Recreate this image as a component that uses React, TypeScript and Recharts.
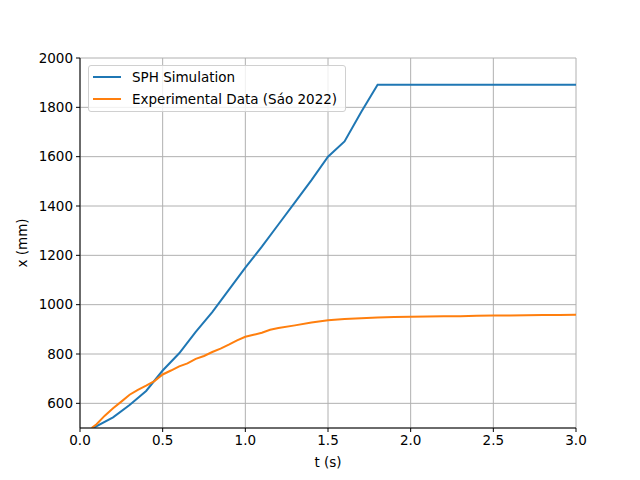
import {
  CartesianGrid,
  Legend,
  Line,
  LineChart,
  XAxis,
  YAxis,
} from "recharts";

const simTime = [0.08, 0.2, 0.3, 0.4, 0.5, 0.6, 0.7, 0.8, 0.9, 1.0, 1.1, 1.2, 1.3, 1.4, 1.5, 1.6, 1.7, 1.8, 2.0, 2.5, 3.0];
const simX = [500, 543, 593, 650, 733, 803, 890, 970, 1060, 1150, 1235, 1325, 1415, 1505, 1600, 1662, 1780, 1892, 1892, 1892, 1892];

const expTime = [
  0.07, 0.1, 0.15, 0.2, 0.25, 0.3, 0.35, 0.4, 0.45, 0.5, 0.55, 0.6, 0.65, 0.7, 0.75, 0.8, 0.85, 0.9, 0.95, 1.0,
  1.05, 1.1, 1.15, 1.2, 1.3, 1.4, 1.5, 1.6, 1.7, 1.8, 1.9, 2.0, 2.1, 2.2, 2.3, 2.4, 2.5, 2.6, 2.7, 2.8, 2.9, 3.0,
];
const expX = [
  500, 515, 550, 580, 607, 635, 655, 672, 690, 717, 733, 750, 762, 780, 792, 808, 822, 838, 855, 870,
  878, 886, 898, 905, 916, 928, 937, 942, 945, 948, 950, 951, 952, 953, 953, 955, 956, 956, 957, 958, 958, 959,
];

const xTicks = [0, 0.5, 1.0, 1.5, 2.0, 2.5, 3.0];
const yTicks = [600, 800, 1000, 1200, 1400, 1600, 1800, 2000];

const seriesNames = ["SPH Simulation", "Experimental Data (Sáo 2022)"];
const colors = ["#1f77b4", "#ff7f0e"];

const simData = simTime.map((t, i) => ({ t, x: simX[i] }));
const expData = expTime.map((t, i) => ({ t, x: expX[i] }));

const font = "'DejaVu Sans', sans-serif";
const tickStyle = { fontSize: 13.5, fill: "#000", fontFamily: font };

function LegendBox() {
  return (
    <div
      style={{
        border: "1px solid #d0d0d0",
        borderRadius: 3,
        background: "rgba(255,255,255,0.8)",
        padding: "0px 8px 1px 4px",
        fontFamily: font,
        fontSize: 13.5,
        color: "#000",
      }}
    >
      {seriesNames.map((name, i) => (
        <div key={name} style={{ display: "flex", alignItems: "center", height: 22 }}>
          <span
            style={{
              display: "inline-block",
              width: 28,
              height: 2,
              background: colors[i],
              marginRight: 11,
            }}
          />
          {name}
        </div>
      ))}
    </div>
  );
}

export default function App() {
  return (
    <div style={{ position: "fixed", left: 0, top: 0, background: "#fff" }}>
      <LineChart width={640} height={480} margin={{ top: 58, right: 64, left: 20, bottom: 22 }}>
        <CartesianGrid stroke="#b0b0b0" strokeWidth={1} />
        <XAxis
          dataKey="t"
          type="number"
          domain={[0, 3]}
          ticks={xTicks}
          allowDataOverflow
          tickFormatter={(v: number) => v.toFixed(1)}
          tick={tickStyle}
          stroke="#000"
          tickSize={4}
          tickMargin={3}
          height={30}
          label={{
            content: () => (
              <text x={328} y={467} textAnchor="middle" fontFamily={font} fontSize={13.5} fill="#000">
                t (s)
              </text>
            ),
          }}
        />
        <XAxis xAxisId="top" orientation="top" type="number" domain={[0, 3]} tick={false} tickLine={false} stroke="#000" height={0} />
        <YAxis
          type="number"
          domain={[500, 2000]}
          ticks={yTicks}
          allowDataOverflow
          tick={tickStyle}
          stroke="#000"
          tickSize={4}
          tickMargin={3}
          width={60}
          label={{
            content: () => (
              <text
                x={27}
                y={243}
                textAnchor="middle"
                fontFamily={font}
                fontSize={13.5}
                fill="#000"
                transform="rotate(-90 27 243)"
              >
                x (mm)
              </text>
            ),
          }}
        />
        <YAxis yAxisId="right" orientation="right" type="number" domain={[500, 2000]} tick={false} tickLine={false} stroke="#000" width={0} />
        <Legend
          layout="horizontal"
          verticalAlign="middle"
          align="center"
          content={() => <LegendBox />}
          wrapperStyle={{ left: 88, top: 65, width: "auto", height: "auto" }}
        />
        <Line
          data={simData}
          dataKey="x"
          name={seriesNames[0]}
          type="linear"
          stroke={colors[0]}
          strokeWidth={2}
          dot={false}
          isAnimationActive={false}
        />
        <Line
          data={expData}
          dataKey="x"
          name={seriesNames[1]}
          type="linear"
          stroke={colors[1]}
          strokeWidth={2}
          dot={false}
          isAnimationActive={false}
        />
      </LineChart>
    </div>
  );
}
